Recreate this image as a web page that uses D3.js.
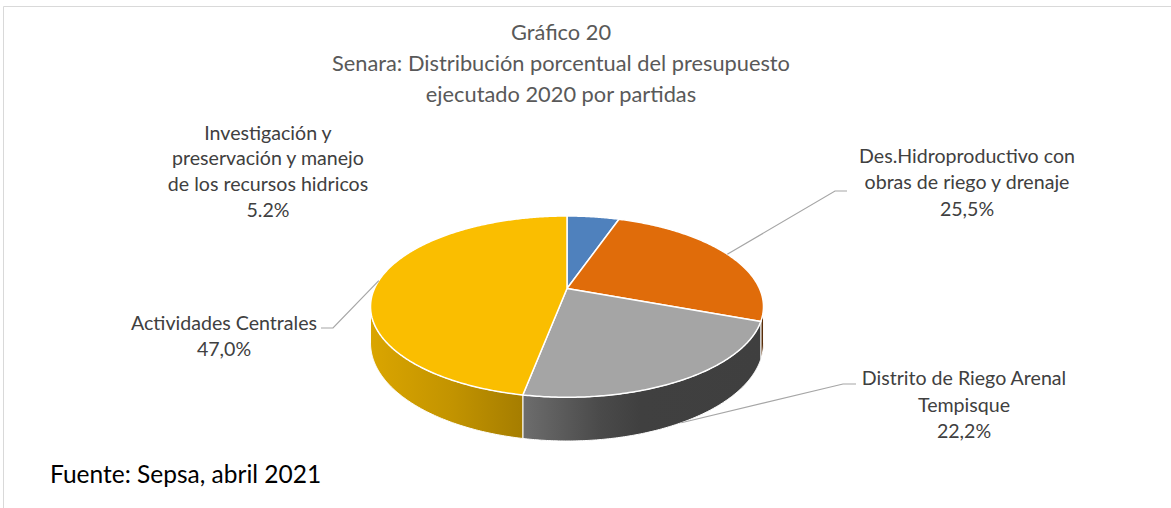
<!DOCTYPE html>
<html><head><meta charset="utf-8">
<script src="https://cdn.jsdelivr.net/npm/d3@7"></script>
<style>html,body{margin:0;padding:0;background:#fff;}svg{display:block;}</style>
</head><body>
<svg id="chart" width="1171" height="508"></svg>
<script>
// ---- data ----
const categories = [
  "Investigación y preservación y manejo de los recursos hidricos",
  "Des.Hidroproductivo con obras de riego y drenaje",
  "Distrito de Riego Arenal Tempisque",
  "Actividades Centrales"
];
const values = [5.2, 25.5, 22.2, 47.0];
const valueLabels = ["5.2%", "25,5%", "22,2%", "47,0%"];
const labelLines = [
  ["Investigación y", "preservación y manejo", "de los recursos hidricos"],
  ["Des.Hidroproductivo con", "obras de riego y drenaje"],
  ["Distrito de Riego Arenal", "Tempisque"],
  ["Actividades Centrales"]
];
const titleLines = ["Gráfico 20", "Senara: Distribución porcentual del presupuesto", "ejecutado 2020 por partidas"];
const sourceText = "Fuente: Sepsa, abril 2021";

// ---- styles / layout ----
const colors = ["#4F81BD", "#E06C0A", "#A5A5A5", "#FABE00"];
const FONT = "Lato, 'Open Sans', sans-serif";
const labelLayout = [
  {x: 268, y: 139.5, lh: 25.7, leader: null},
  {x: 967, y: 163, lh: 26.3, leader: [[835, 191], [847, 191]], anchorLevel: 0},
  {x: 964, y: 385, lh: 26.5, leader: [[843, 384], [856, 384]], anchorLevel: 1},
  {x: 224, y: 330, lh: 26, leader: [[333, 328], [321, 328]], anchorLevel: 0}
];

const svg = d3.select("#chart");

// border
svg.append("line").attr("x1", 3.5).attr("x2", 1171).attr("y1", 6.5).attr("y2", 6.5).attr("stroke", "#D9D9D9").attr("stroke-width", 1);
svg.append("line").attr("x1", 3.5).attr("x2", 3.5).attr("y1", 6.5).attr("y2", 508).attr("stroke", "#D9D9D9").attr("stroke-width", 1);

// title
svg.append("g").selectAll("text").data(titleLines).join("text")
  .attr("x", 561).attr("y", (d, i) => 39.5 + i * 31)
  .attr("text-anchor", "middle").attr("font-family", FONT).attr("font-size", 21.8)
  .attr("fill", "#595959").text(d => d);

// ---- 3D pie geometry (perspective projection of a tilted disc) ----
const cx = 567, cy = 288.5, A = 192.5, B = 87, K = 0.2, H = 35;
function proj(phi, lvl) {
  const X = Math.sin(phi), Z = -Math.cos(phi), w = 1 - K * Z;
  return [cx + A * X / w, cy + B * Z / w + lvl * H / w];
}
function arcPts(a0, a1, lvl) {
  const n = Math.max(2, Math.ceil(Math.abs(a1 - a0) / 0.01));
  return d3.range(n + 1).map(i => proj(a0 + (a1 - a0) * i / n, lvl));
}
const pie = d3.pie().sort(null).value(d => d)(values);
const line = d3.line();

// gradients for walls
const defs = svg.append("defs");
const shade = [[cx - A * 1.02, 0.87], [450, 0.78], [523, 0.66], [600, 0.45], [640, 0.39], [cx + A * 1.02, 0.38]];
colors.forEach((c, i) => {
  const g = defs.append("linearGradient").attr("id", "wall" + i)
    .attr("gradientUnits", "userSpaceOnUse")
    .attr("x1", shade[0][0]).attr("x2", shade[shade.length - 1][0]).attr("y1", 0).attr("y2", 0);
  const base = d3.rgb(c);
  const x0 = shade[0][0], x1 = shade[shade.length - 1][0];
  shade.forEach(([x, m]) => {
    g.append("stop").attr("offset", (x - x0) / (x1 - x0))
      .attr("stop-color", d3.rgb(base.r * m, base.g * m, base.b * m).formatHex());
  });
});

// walls (visible front part)
const phiL = Math.acos(-K), phiR = 2 * Math.PI - phiL;
const walls = svg.append("g");
pie.forEach((s, i) => {
  const a0 = Math.max(s.startAngle, phiL), a1 = Math.min(s.endAngle, phiR);
  if (a1 <= a0) return;
  const pts = arcPts(a0, a1, 0).concat(arcPts(a1, a0, 1));
  walls.append("path").attr("d", line(pts) + "Z")
    .attr("fill", `url(#wall${i})`).attr("stroke", "#fff").attr("stroke-width", 1).attr("stroke-linejoin", "round");
});

// top faces
const tops = svg.append("g");
pie.forEach((s, i) => {
  const pts = [[cx, cy]].concat(arcPts(s.startAngle, s.endAngle, 0));
  tops.append("path").attr("d", line(pts) + "Z")
    .attr("fill", colors[i]).attr("stroke", "#fff").attr("stroke-width", 1.5).attr("stroke-linejoin", "round");
});

// leader lines & labels
const lab = svg.append("g");
pie.forEach((s, i) => {
  const L = labelLayout[i];
  if (L.leader) {
    const mid = (s.startAngle + s.endAngle) / 2;
    const p = proj(mid, L.anchorLevel);
    lab.append("path").attr("d", line([p].concat(L.leader)))
      .attr("fill", "none").attr("stroke", "#A6A6A6").attr("stroke-width", 1.2);
  }
  const lines = labelLines[i].concat([valueLabels[i]]);
  lab.append("g").selectAll("text").data(lines).join("text")
    .attr("x", L.x).attr("y", (d, j) => L.y + j * L.lh)
    .attr("text-anchor", "middle").attr("font-family", FONT).attr("font-size", 19.6)
    .attr("fill", "#404040").text(d => d);
});

// source
svg.append("text").attr("x", 50).attr("y", 483).attr("font-family", FONT).attr("font-size", 24.5)
  .attr("fill", "#000").text(sourceText);
</script>
</body></html>
